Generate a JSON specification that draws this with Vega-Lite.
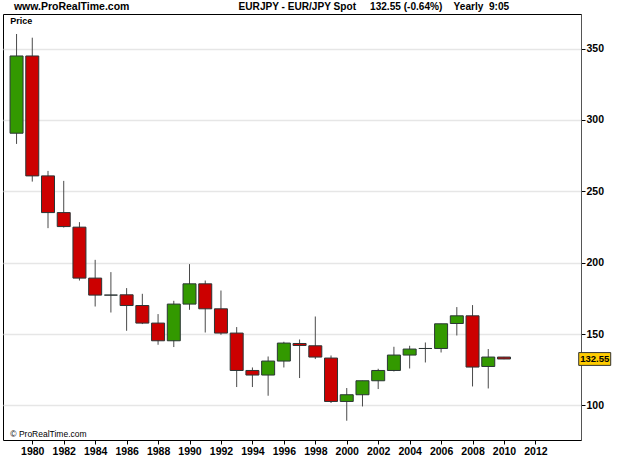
{
  "$schema": "https://vega.github.io/schema/vega-lite/v6.json",
  "width": 578,
  "height": 426,
  "autosize": "none",
  "padding": {"left": 3, "top": 14, "right": 44, "bottom": 29},
  "background": "white",
  "config": {
    "view": {"stroke": "#000000", "strokeWidth": 1},
    "font": "Liberation Sans, Arial, sans-serif",
    "axis": {"labelFont": "Liberation Sans, Arial, sans-serif", "labelFontWeight": "bold", "labelFontSize": 10.5, "labelColor": "#000000", "tickColor": "#000000", "tickSize": 4},
    "axisX": {"labelOverlap": false, "labelFlush": false}
  },
  "data": {
    "values": [
      {"year": 1979, "open": 290.7, "high": 360.2, "low": 283.2, "close": 344.8},
      {"year": 1980, "open": 344.8, "high": 357.6, "low": 256.8, "close": 260.8},
      {"year": 1981, "open": 260.8, "high": 264.3, "low": 224.2, "close": 235.1},
      {"year": 1982, "open": 235.1, "high": 257.3, "low": 224.6, "close": 225.3},
      {"year": 1983, "open": 224.9, "high": 228.4, "low": 187.5, "close": 189.2},
      {"year": 1984, "open": 189.2, "high": 202.0, "low": 169.3, "close": 177.3},
      {"year": 1985, "open": 177.3, "high": 193.4, "low": 165.1, "close": 177.3},
      {"year": 1986, "open": 177.5, "high": 182.2, "low": 152.3, "close": 170.0},
      {"year": 1987, "open": 170.0, "high": 178.2, "low": 157.0, "close": 157.7},
      {"year": 1988, "open": 157.7, "high": 164.0, "low": 142.5, "close": 145.3},
      {"year": 1989, "open": 145.3, "high": 173.3, "low": 140.9, "close": 171.0},
      {"year": 1990, "open": 171.0, "high": 199.0, "low": 167.0, "close": 185.2},
      {"year": 1991, "open": 185.2, "high": 187.5, "low": 151.1, "close": 167.7},
      {"year": 1992, "open": 167.7, "high": 180.5, "low": 149.5, "close": 150.7},
      {"year": 1993, "open": 150.7, "high": 154.9, "low": 112.9, "close": 124.5},
      {"year": 1994, "open": 124.5, "high": 126.6, "low": 112.9, "close": 121.3},
      {"year": 1995, "open": 121.3, "high": 134.3, "low": 106.8, "close": 131.1},
      {"year": 1996, "open": 131.1, "high": 144.6, "low": 126.6, "close": 143.7},
      {"year": 1997, "open": 143.4, "high": 146.2, "low": 119.2, "close": 142.0},
      {"year": 1998, "open": 141.8, "high": 162.3, "low": 132.5, "close": 133.9},
      {"year": 1999, "open": 133.2, "high": 135.0, "low": 101.7, "close": 102.8},
      {"year": 2000, "open": 102.8, "high": 112.2, "low": 89.3, "close": 107.5},
      {"year": 2001, "open": 107.5, "high": 117.3, "low": 99.3, "close": 117.3},
      {"year": 2002, "open": 117.3, "high": 125.7, "low": 111.5, "close": 124.5},
      {"year": 2003, "open": 124.5, "high": 141.1, "low": 123.8, "close": 135.3},
      {"year": 2004, "open": 135.3, "high": 141.8, "low": 125.9, "close": 139.5},
      {"year": 2005, "open": 139.9, "high": 144.1, "low": 130.1, "close": 139.9},
      {"year": 2006, "open": 139.9, "high": 157.2, "low": 137.1, "close": 157.2},
      {"year": 2007, "open": 157.4, "high": 168.9, "low": 149.0, "close": 162.8},
      {"year": 2008, "open": 162.8, "high": 170.3, "low": 113.3, "close": 126.9},
      {"year": 2009, "open": 127.3, "high": 139.5, "low": 111.9, "close": 133.9},
      {"year": 2010, "open": 133.9, "high": 134.0, "low": 132.4, "close": 132.55}
    ]
  },
  "encoding": {
    "x": {
      "field": "year", "type": "quantitative", "title": null,
      "scale": {"domain": [1978.456, 2014.58], "nice": false, "zero": false},
      "axis": {"values": [1980, 1982, 1984, 1986, 1988, 1990, 1992, 1994, 1996, 1998, 2000, 2002, 2004, 2006, 2008, 2010, 2012], "format": "d", "grid": false, "domain": false, "labelPadding": 2, "labelFlush": false, "labelOverlap": false, "labelBound": false}
    }
  },
  "layer": [
    {
      "mark": {"type": "rule", "color": "#4a4a4a", "strokeWidth": 1},
      "encoding": {
        "y": {
          "field": "low", "type": "quantitative", "title": null,
          "scale": {"domain": [75.8, 374.2], "nice": false, "zero": false},
          "axis": {"orient": "right", "values": [100, 150, 200, 250, 300, 350], "grid": true, "gridColor": "#e6e6e6", "gridWidth": 1.5, "domain": true, "domainColor": "#555555", "labelPadding": 1}
        },
        "y2": {"field": "high"}
      }
    },
    {
      "mark": {"type": "bar", "width": 13, "stroke": "#2b3535", "strokeWidth": 1},
      "encoding": {
        "y": {"field": "open", "type": "quantitative", "title": null},
        "y2": {"field": "close"},
        "color": {"condition": {"test": "datum.close > datum.open", "value": "#339900"}, "value": "#cc0000"}
      }
    },
    {
      "data": {"values": [{"label": "www.ProRealTime.com", "year": 1978.83, "price": 379.3}]},
      "mark": {"type": "text", "align": "left", "baseline": "middle", "fontSize": 10.5, "fontWeight": "bold", "color": "#000000"},
      "encoding": {
        "y": {"field": "price", "type": "quantitative", "title": null},
        "text": {"field": "label"}
      }
    },
    {
      "data": {"values": [{"label": "EURJPY - EUR/JPY Spot\u00a0\u00a0\u00a0\u00a0\u00a0132.55 (-0.64%)\u00a0\u00a0\u00a0\u00a0Yearly\u00a0\u00a09:05", "year": 1993.12, "price": 379.3}]},
      "mark": {"type": "text", "align": "left", "baseline": "middle", "fontSize": 10.1, "fontWeight": "bold", "color": "#000000"},
      "encoding": {
        "y": {"field": "price", "type": "quantitative", "title": null},
        "text": {"field": "label"}
      }
    },
    {
      "data": {"values": [{"label": "Price", "year": 1978.6, "price": 369.5}]},
      "mark": {"type": "text", "align": "left", "baseline": "middle", "fontSize": 9, "fontWeight": "bold", "color": "#000000"},
      "encoding": {
        "y": {"field": "price", "type": "quantitative", "title": null},
        "text": {"field": "label"}
      }
    },
    {
      "data": {"values": [{"label": "© ProRealTime.com", "year": 1978.6, "price": 80.0}]},
      "mark": {"type": "text", "align": "left", "baseline": "middle", "fontSize": 8.5, "color": "#000000"},
      "encoding": {
        "y": {"field": "price", "type": "quantitative", "title": null},
        "text": {"field": "label"}
      }
    },
    {
      "data": {"values": [{"last": 132.55, "year": 2015.77}]},
      "mark": {"type": "point", "shape": "M-1,-0.4H1V0.4H-1Z", "size": 1024, "filled": true, "fill": "#ffcc00", "stroke": "#333333", "strokeWidth": 1, "opacity": 1},
      "encoding": {
        "y": {"field": "last", "type": "quantitative", "title": null}
      }
    },
    {
      "data": {"values": [{"last": 132.55, "year": 2015.77}]},
      "mark": {"type": "text", "align": "center", "baseline": "middle", "fontSize": 9.5, "fontWeight": "bold", "color": "#000000"},
      "encoding": {
        "y": {"field": "last", "type": "quantitative", "title": null},
        "text": {"field": "last", "type": "quantitative", "format": ".2f"}
      }
    }
  ]
}
